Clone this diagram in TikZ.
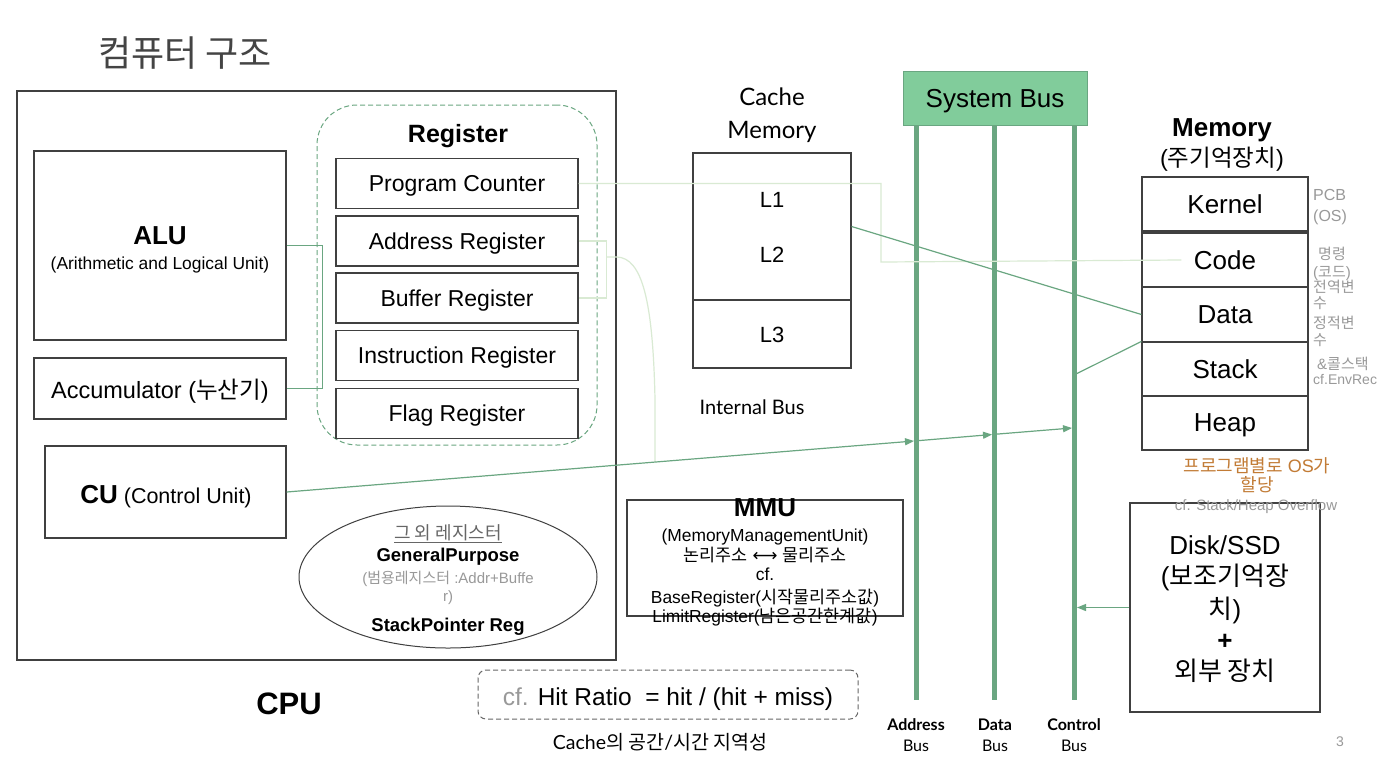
\documentclass[tikz,border=0pt]{standalone}
\usepackage{fontspec}
\setmainfont{Liberation Sans}
\newfontfamily\krf{Noto Sans CJK KR}
\newfontfamily\latof{Lato}
\newfontfamily\djv{DejaVu Sans}
\usetikzlibrary{arrows.meta,shapes.geometric}
\definecolor{boxgray}{HTML}{404040}
\definecolor{gline}{HTML}{6AA681}
\definecolor{lgline}{HTML}{D9EAD3}
\definecolor{busfill}{HTML}{81CC9B}
\definecolor{txtgray}{HTML}{999999}
\definecolor{orangetxt}{HTML}{C27B35}
\definecolor{titlegray}{HTML}{444444}
\newcommand\kor[1]{{\krf #1}}
\newcommand\fsz[1]{\fontsize{#1}{#1}\selectfont}
\tikzset{
  box/.style={draw=boxgray, line width=1.2pt, inner sep=0pt, align=center, text depth=0pt},
  regbox/.style={box, minimum width=242pt, minimum height=50pt, font=\fsz{23}},
  membox/.style={box, minimum width=166pt, minimum height=54pt, font=\fsz{26}},
  txt/.style={inner sep=0pt, align=center, text depth=0pt},
  mtxt/.style={inner sep=0pt, align=center},
  busline/.style={line width=4.5pt, draw=gline},
  conn/.style={draw=gline, line width=1.2pt},
  lconn/.style={draw=lgline, line width=1.2pt},
  arr/.style={conn, -{Triangle[length=9pt,width=7pt]}},
  note/.style={text=txtgray, font=\fsz{15}, anchor=west, inner sep=0pt, text depth=0pt},
}
\begin{document}
\begin{tikzpicture}[x=1pt,y=-1pt]
\useasboundingbox (0,0) rectangle (1380,764);
\fill[white] (0,0) rectangle (1380,764);

% title
\node[txt, text=titlegray, font=\fsz{36}] (title) at (185,52) {\kor{컴퓨터 구조}};

% CPU
\node[box, minimum width=599pt, minimum height=569pt] (cpu) at (316.5,375.5) {};
\node[txt, font=\bfseries\fsz{31}] (cpulbl) at (289,704) {CPU};

\node[box, minimum width=252pt, minimum height=189pt] (alu) at (160,245.5) {};
\node[txt, font=\bfseries\fsz{26}] (alut) at (160,236) {ALU};
\node[txt, font=\fsz{17.4}] (alus) at (160,263) {(Arithmetic and Logical Unit)};

\node[box, minimum width=252pt, minimum height=61pt, font=\fsz{23.5}] (acc) at (160,388.5) {Accumulator (\kor{누산기})};

\node[box, minimum width=241pt, minimum height=92pt] (cu) at (165.5,492) {};
\node[txt, font=\fsz{21.5}] (cut) at (166,494) {{\bfseries\fsz{26}CU} (Control Unit)};

% register group
\node[draw=gline, dashed, dash pattern=on 5pt off 3pt, line width=1pt, rounded corners=40pt,
      minimum width=280pt, minimum height=340pt, inner sep=0pt] (reggrp) at (457,275) {};
\node[txt, font=\bfseries\fsz{25}] (regt) at (458,133) {Register};
\node[regbox] (pc) at (457,183.5) {Program Counter};
\node[regbox] (ar) at (457,241) {Address Register};
\node[regbox] (br) at (457,298) {Buffer Register};
\node[regbox] (ir) at (457,355.5) {Instruction Register};
\node[regbox] (fr) at (457,413.5) {Flag Register};

% other registers ellipse
\node[draw=boxgray, ellipse, line width=1pt, minimum width=298pt, minimum height=142pt, inner sep=0pt] (ell) at (448,577) {};
\node[txt, text=black!60, font=\fsz{18}] (ell1) at (448,532) {\underline{\kor{그 외 레지스터}}};
\node[txt, font=\bfseries\fsz{18.5}] (ell2) at (448,555) {GeneralPurpose};
\node[txt, text=txtgray, font=\fsz{15}] (ell3) at (448,577) {(\kor{범용레지스터} :Addr+Buffe};
\node[txt, text=txtgray, font=\fsz{15}] (ell4) at (448,596) {r)};
\node[txt, font=\bfseries\fsz{18.5}] (ell5) at (448,625) {StackPointer Reg};

% cache
\node[mtxt, font=\latof\fsz{24}] (cachet) at (772,115) {Cache\\[9pt]Memory};
\node[box, minimum width=158pt, minimum height=147pt] (cacheup) at (772,226.5) {};
\node[box, minimum width=158pt, minimum height=68pt] (cachelow) at (772,334) {};
\node[txt, font=\fsz{22}] (l1) at (772,200) {L1};
\node[txt, font=\fsz{22}] (l2) at (772,255) {L2};
\node[txt, font=\fsz{22}] (l3) at (772,335) {L3};
\node[txt, font=\latof\fsz{20}] (ibus) at (752,407) {Internal Bus};

% MMU
\node[box, minimum width=276pt, minimum height=116pt] (mmu) at (765,558) {};
\node[txt, font=\bfseries\fsz{26}] (mmut) at (765,508) {MMU};
\node[txt, font=\fsz{17.4}] (mmu1) at (765,535) {(MemoryManagementUnit)};
\node[txt, font=\fsz{17.4}] (mmu2) at (765,554) {\kor{논리주소} {\djv ⟷} \kor{물리주소}};
\node[txt, font=\fsz{17.4}] (mmu3) at (765,574) {cf.};
\node[txt, font=\fsz{17.4}] (mmu4) at (765,596) {BaseRegister(\kor{시작물리주소값})};
\node[txt, font=\fsz{17.4}] (mmu5) at (765,615) {LimitRegister(\kor{남은공간한계값})};

% hit ratio
\node[draw=black!60, dashed, dash pattern=on 5pt off 3pt, line width=1pt, rounded corners=8pt,
      minimum width=380pt, minimum height=49pt, inner sep=0pt] (hit) at (668,694.5) {};
\node[txt, font=\fsz{24.5}] (hitt) at (668,697) {{\color{txtgray}cf.} Hit Ratio\ \ = hit / (hit + miss)};
\node[txt, font=\latof\fsz{19.5}] (loc) at (660,741) {Cache\kor{의 공간}/\kor{시간 지역성}};

% system bus
\node[draw=gline, fill=busfill, line width=1pt, minimum width=184pt, minimum height=54pt, inner sep=0pt, text depth=0pt, font=\fsz{26}] (sysbus) at (995,98) {System Bus};
\coordinate (abt) at (916.5,125); \coordinate (abb) at (916.5,700);
\coordinate (dbt) at (994.5,125); \coordinate (dbb) at (994.5,700);
\coordinate (cbt) at (1074.5,125); \coordinate (cbb) at (1074.5,700);
\draw[busline] (abt) -- (abb);
\draw[busline] (dbt) -- (dbb);
\draw[busline] (cbt) -- (cbb);
\node[txt, font=\latof\bfseries\fsz{16}] (abl1) at (916,725) {Address};
\node[txt, font=\latof\fsz{16}] (abl2) at (916,746) {Bus};
\node[txt, font=\latof\bfseries\fsz{16}] (dbl1) at (995,725) {Data};
\node[txt, font=\latof\fsz{16}] (dbl2) at (995,746) {Bus};
\node[txt, font=\latof\bfseries\fsz{16}] (cbl1) at (1074,725) {Control};
\node[txt, font=\latof\fsz{16}] (cbl2) at (1074,746) {Bus};

% memory
\node[txt, font=\bfseries\fsz{26}] (memt) at (1222,128) {Memory};
\node[txt, font=\fsz{23.5}] (mems) at (1222,157) {(\kor{주기억장치})};
\node[membox] (kernel) at (1225,204) {Kernel};
\node[membox] (code) at (1225,260) {Code};
\node[membox] (data) at (1225,314.5) {Data};
\node[membox] (stack) at (1225,369) {Stack};
\node[membox] (heap) at (1225,423) {Heap};

\node[note, font=\fsz{16}] (n1) at (1313,195) {PCB};
\node[note, font=\fsz{16}] (n2) at (1313,216) {(OS)};
\node[note] (n3) at (1318,253) {\kor{명령}};
\node[note] (n4) at (1313,272) {(\kor{코드})};
\node[note] (n5) at (1313,286) {\kor{전역변}};
\node[note] (n6) at (1313,303) {\kor{수}};
\node[note] (n7) at (1313,322) {\kor{정적변}};
\node[note] (n8) at (1313,340) {\kor{수}};
\node[note] (n9) at (1317,363) {\&\kor{콜스택}};
\node[note, font=\fsz{14}] (n10) at (1313,379) {cf.EnvRec};

\node[txt, text=orangetxt, font=\fsz{18}] (os1) at (1257,465) {\kor{프로그램별로} OS\kor{가}};
\node[txt, text=orangetxt, font=\fsz{18}] (os2) at (1257,484) {\kor{할당}};

% disk
\node[box, minimum width=190pt, minimum height=209pt] (disk) at (1225,607.5) {};
\node[txt, text=txtgray, font=\fsz{15}] (ovf) at (1256,505) {cf. Stack/Heap Overflow};
\node[mtxt, font=\fsz{26}] (diskt) at (1225,609)
  {Disk/SSD\\[5pt](\kor{보조기억장}\\[5pt]\kor{치})\\[5pt]\textbf{+}\\[5pt]\kor{외부 장치}};

\node[txt, text=txtgray, font=\fsz{14}] (pg) at (1340,742) {3};

% connectors
\draw[conn] (alu.east) -- ++(36,0) |- (acc.east);
\draw[lconn] (pc.east) -| (881,262) -- ([xshift=40pt]code.west);
\draw[lconn] (ar.east) -- ++(28,0) |- (br.east);
\coordinate (abmid) at (606,257);
\coordinate (curend) at (655,462);
\draw[lconn] (abmid) -- ++(11,0) .. controls (642,258) and (653,300) .. (655,400) -- (curend);
\draw[conn] (cacheup.east) -- (data.west);
\coordinate (cbs) at (1076,374);
\draw[conn] (cbs) -- (stack.north west);
\coordinate (ab1) at (914,441);
\coordinate (db1) at (992,434.5);
\coordinate (cb1) at (1072,428);
\draw[arr] (cu.east) -- (ab1);
\draw[arr] (ab1) -- (db1);
\draw[arr] (db1) -- (cb1);
\coordinate (cbd) at (1077,607.5);
\draw[arr] (disk.west) -- (cbd);
\end{tikzpicture}
\end{document}
